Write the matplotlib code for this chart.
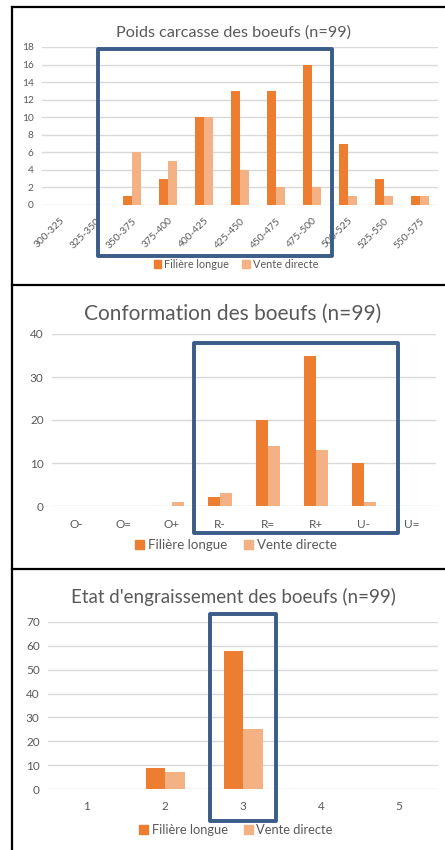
import numpy as np
import matplotlib.pyplot as plt
from matplotlib.patches import Rectangle
from matplotlib.lines import Line2D

plt.rcParams['font.family'] = ['Lato', 'DejaVu Sans']

W, H = 445, 850
SERIES = ["Filière longue", "Vente directe"]
C_LONG = "#ED7D31"
C_DIRECT = "#F4B183"
TXT = "#595959"
GRID = "#D9D9D9"
BOX = "#3A5C89"

# --- data ---
poids_cats = ["300-325", "325-350", "350-375", "375-400", "400-425", "425-450",
              "450-475", "475-500", "500-525", "525-550", "550-575"]
poids_longue = [0, 0, 1, 3, 10, 13, 13, 16, 7, 3, 1]
poids_directe = [0, 0, 6, 5, 10, 4, 2, 2, 1, 1, 1]

conf_cats = ["O-", "O=", "O+", "R-", "R=", "R+", "U-", "U="]
conf_longue = [0, 0, 0, 2, 20, 35, 10, 0]
conf_directe = [0, 0, 1, 3, 14, 13, 1, 0]

engr_cats = ["1", "2", "3", "4", "5"]
engr_longue = [0, 9, 58, 0, 0]
engr_directe = [0, 7, 25, 0, 0]


def px_axes(fig, x0, y_top, x1, y_bot):
    return fig.add_axes([x0 / W, 1 - y_bot / H, (x1 - x0) / W, (y_bot - y_top) / H])


def fig_rect(fig, x0, y0, x1, y1, lw):
    fig.add_artist(Rectangle((x0 / W, 1 - y1 / H), (x1 - x0) / W, (y1 - y0) / H,
                             transform=fig.transFigure, fill=False, edgecolor=BOX,
                             linewidth=lw, joinstyle="round"))


def panel(fig, box, cats, longue, directe, ymax, ystep, title, title_y, title_fs,
          tick_fs, legend_y, legend_fs, width, rotate=False):
    ax = px_axes(fig, *box)
    x = np.arange(len(cats))
    ax.bar(x - width / 2, longue, width, color=C_LONG, label=SERIES[0], zorder=3)
    ax.bar(x + width / 2, directe, width, color=C_DIRECT, label=SERIES[1], zorder=3)
    ax.set_xlim(-0.5, len(cats) - 0.5)
    ax.set_ylim(0, ymax)
    ax.set_yticks(np.arange(0, ymax + 1, ystep))
    ax.yaxis.grid(True, color=GRID, linewidth=1, zorder=0)
    ax.set_axisbelow(True)
    for s in ax.spines.values():
        s.set_visible(False)
    ax.tick_params(length=0, colors=TXT, labelsize=tick_fs)
    ax.tick_params(axis="y", pad=6)
    ax.set_xticks(x)
    if rotate:
        ax.set_xticklabels(cats, rotation=45, ha="right", va="top",
                           rotation_mode="anchor")
        ax.tick_params(axis="x", pad=8)
    else:
        ax.set_xticklabels(cats)
        ax.tick_params(axis="x", pad=9)
    fig.text(233 / W, 1 - title_y / H, title, ha="center",
             va="center", fontsize=title_fs, color=TXT)
    handles = [Rectangle((0, 0), 1, 1, color=C_LONG), Rectangle((0, 0), 1, 1, color=C_DIRECT)]
    fig.legend(handles, SERIES, loc="center", bbox_to_anchor=(236 / W, 1 - legend_y / H),
               ncol=2, frameon=False, fontsize=legend_fs, handlelength=0.7,
               handleheight=0.7, handletextpad=0.3, columnspacing=1.2,
               labelcolor=TXT)
    return ax


fig = plt.figure(figsize=(W / 100, H / 100), dpi=100)

panel(fig, (42, 47, 438, 205), poids_cats, poids_longue, poids_directe, 18, 2,
      "Poids carcasse des boeufs (n=99)", 33, 11.7, 7.3, 264, 7.8, 0.26, rotate=True)
panel(fig, (52, 334, 436, 506), conf_cats, conf_longue, conf_directe, 40, 10,
      "Conformation des boeufs (n=99)", 314, 15, 8.5, 545, 9.6, 0.24)
panel(fig, (48, 622, 438, 789), engr_cats, engr_longue, engr_directe, 70, 10,
      "Etat d'engraissement des boeufs (n=99)", 597, 13.5, 8.5, 830, 9.3, 0.25)

# highlight boxes
fig_rect(fig, 98, 49, 332, 256, 2.8)
fig_rect(fig, 194, 343, 398, 533, 2.8)
fig_rect(fig, 210, 614, 276, 821, 2.8)

# panel borders
for y in (6.5, 285, 569):
    fig.add_artist(Line2D([12 / W, 1], [1 - y / H, 1 - y / H], transform=fig.transFigure,
                          color="black", linewidth=1.6))
fig.add_artist(Line2D([12 / W, 12 / W], [1 - 6.5 / H, 0], transform=fig.transFigure,
                      color="black", linewidth=1.6))

fig.savefig("out.png", dpi=100)
